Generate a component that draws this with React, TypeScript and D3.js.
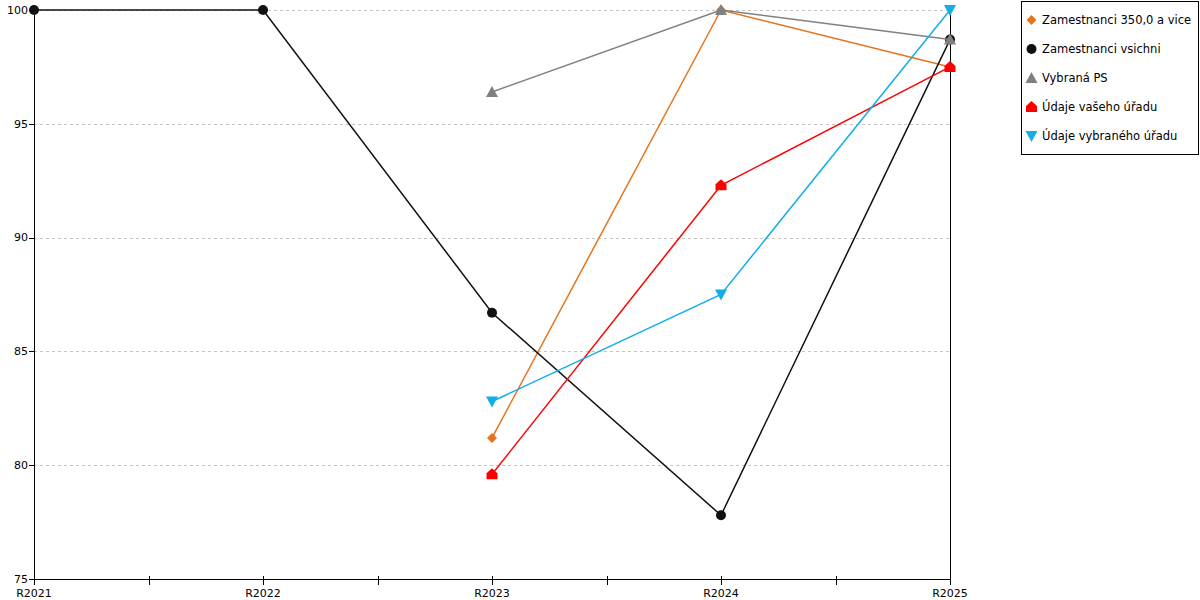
import * as d3 from "d3";

const years = ["R2021", "R2022", "R2023", "R2024", "R2025"];
const yTicks = [75, 80, 85, 90, 95, 100];

type Series = { name: string; color: string; symbol: string; values: (number | null)[] };

const orangeValues = [null, null, 81.2, 100, 97.5];
const blackValues = [100, 100, 86.7, 77.8, 98.7];
const grayValues = [null, null, 96.4, 100, 98.7];
const redValues = [null, null, 79.6, 92.3, 97.5];
const blueValues = [null, null, 82.8, 87.5, 100];

const series: Series[] = [
  { name: "Zamestnanci 350,0 a vice", color: "#e6731c", symbol: "diamond", values: orangeValues },
  { name: "Zamestnanci vsichni", color: "#111111", symbol: "circle", values: blackValues },
  { name: "Vybraná PS", color: "#808080", symbol: "up", values: grayValues },
  { name: "Údaje vašeho úřadu", color: "#ff0000", symbol: "house", values: redValues },
  { name: "Údaje vybraného úřadu", color: "#12aee8", symbol: "down", values: blueValues },
];

const W = 1200;
const H = 600;
const left = 34;
const right = 950;
const top = 10;
const bottom = 579;
const FONT = "DejaVu Sans, Verdana, sans-serif";

const x = d3.scalePoint<string>().domain(years).range([left, right]);
const y = d3.scaleLinear().domain([75, 100]).range([bottom, top]);
// half-pixel offset so 1px strokes stay crisp
const px = (v: number) => Math.round(v) + 0.5;

function Marker({ symbol, cx, cy, color }: { symbol: string; cx: number; cy: number; color: string }) {
  if (symbol === "circle") return <circle cx={cx} cy={cy} r={5} fill={color} />;
  if (symbol === "diamond")
    return <path d={`M${cx},${cy - 5}L${cx + 5},${cy}L${cx},${cy + 5}L${cx - 5},${cy}Z`} fill={color} />;
  if (symbol === "up")
    return <path d={`M${cx},${cy - 6}L${cx + 6},${cy + 5}L${cx - 6},${cy + 5}Z`} fill={color} />;
  if (symbol === "down")
    return <path d={`M${cx - 6},${cy - 5}L${cx + 6},${cy - 5}L${cx},${cy + 6}Z`} fill={color} />;
  // house: pentagon pointing up
  return (
    <path
      d={`M${cx},${cy - 6}L${cx + 5.5},${cy - 1}L${cx + 5.5},${cy + 5}L${cx - 5.5},${cy + 5}L${cx - 5.5},${cy - 1}Z`}
      fill={color}
    />
  );
}

export default function App() {
  const line = d3
    .line<number | null>()
    .defined((d) => d !== null)
    .x((_, i) => x(years[i])!)
    .y((d) => y(d as number));

  const minor = years.slice(1).map((yr, i) => (x(years[i])! + x(yr)!) / 2);

  return (
    <svg
      width={W}
      height={H}
      viewBox={`0 0 ${W} ${H}`}
      style={{ position: "absolute", left: 0, top: 0, display: "block", fontFamily: FONT }}
    >
      <rect width={W} height={H} fill="#fff" />
      {/* grid */}
      {yTicks.slice(1).map((t) => (
        <line key={t} x1={left} x2={right} y1={px(y(t))} y2={px(y(t))} stroke="#c4c4c4" strokeDasharray="3,3" />
      ))}
      {/* axes */}
      <line x1={px(left)} x2={px(left)} y1={top} y2={bottom} stroke="#000" />
      <line x1={px(right)} x2={px(right)} y1={top} y2={bottom + 5} stroke="#000" />
      <line x1={left} x2={right} y1={px(bottom)} y2={px(bottom)} stroke="#000" />
      {yTicks.map((t) => (
        <g key={t}>
          <line x1={left - 5} x2={left} y1={px(y(t))} y2={px(y(t))} stroke="#000" />
          <text x={left - 6} y={y(t)} dy="0.35em" textAnchor="end" fontSize={11} fill="#000">
            {t}
          </text>
        </g>
      ))}
      {years.map((yr) => (
        <g key={yr}>
          <line x1={px(x(yr)!)} x2={px(x(yr)!)} y1={bottom - 3} y2={bottom + 6} stroke="#000" />
          <text x={x(yr)} y={bottom + 18} textAnchor="middle" fontSize={11} fill="#000">
            {yr}
          </text>
        </g>
      ))}
      {minor.map((m, i) => (
        <line key={i} x1={px(m)} x2={px(m)} y1={bottom - 3} y2={bottom + 6} stroke="#000" />
      ))}
      {/* series */}
      {series.map((s) => (
        <g key={s.name}>
          <path d={line(s.values) ?? ""} fill="none" stroke={s.color} strokeWidth={1.5} />
          {s.values.map((v, i) =>
            v === null ? null : <Marker key={i} symbol={s.symbol} cx={x(years[i])!} cy={y(v)} color={s.color} />
          )}
        </g>
      ))}
      {/* legend */}
      <rect x={1021.5} y={1.5} width={177} height={153} fill="#fff" stroke="#000" />
      {series.map((s, i) => (
        <g key={s.name}>
          <Marker symbol={s.symbol} cx={1031.5} cy={20 + i * 29} color={s.color} />
          <text x={1042} y={20 + i * 29} dy="0.35em" fontSize={11.5} fill="#000">
            {s.name}
          </text>
        </g>
      ))}
    </svg>
  );
}
